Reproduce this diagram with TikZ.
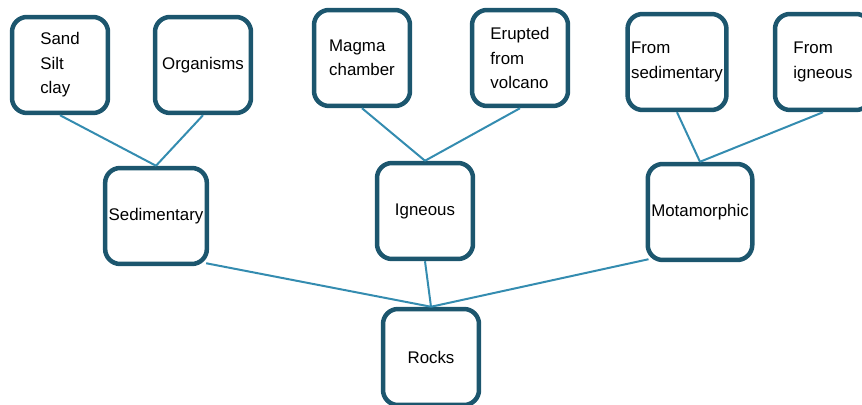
\documentclass[tikz,border=0pt]{standalone}
\usepackage{fontspec}
\setmainfont{Liberation Sans}
\definecolor{borde}{RGB}{28,86,110}
\definecolor{enlace}{RGB}{52,140,176}
\tikzset{
    caja/.style={draw=borde, line width=0.09cm, rounded corners=0.3cm,
        fill=white, minimum width=1.92cm, minimum height=1.92cm,
        align=left, inner sep=2pt,
        font=\fontsize{9.6pt}{13.9pt}\selectfont},
    enlace/.style={draw=enlace, line width=0.04cm}
}
\begin{document}
\begin{tikzpicture}[x=0.02cm, y=-0.02cm]
    \useasboundingbox (0,0) rectangle (862,405);
    \clip (0,0) rectangle (862,405);

    % Raiz y grupos
    \node[caja] (rocks) at (431,357) {Rocks};
    \node[caja] (sed) at (156,216) {Sedimentary};
    \node[caja] (ign) at (425,211) {Igneous};
    \node[caja] (meta) at (700,212) {Motamorphic};

    % Origenes
    \node[caja] (sand) at (60,65) {Sand\\Silt\\clay};
    \node[caja] (org) at (203,65) {Organisms};
    \node[caja] (magma) at (362,58) {Magma\\chamber};
    \node[caja] (erupt) at (520,58) {Erupted\\from\\volcano};
    \node[caja] (fromsed) at (677,62) {From\\sedimentary};
    \node[caja] (fromign) at (823,62) {From\\igneous};

    % Conexiones
    \draw[enlace] (sand.south) -- (sed.north);
    \draw[enlace] (org.south) -- (sed.north);
    \draw[enlace] (magma.south) -- (ign.north);
    \draw[enlace] (erupt.south) -- (ign.north);
    \draw[enlace] (fromsed.south) -- (meta.north);
    \draw[enlace] (fromign.south) -- (meta.north);
    \draw[enlace] ([xshift=-0.06cm,yshift=0.06cm]sed.south east) -- (rocks.north);
    \draw[enlace] (ign.south) -- (rocks.north);
    \draw[enlace] ([xshift=0.06cm,yshift=0.06cm]meta.south west) -- (rocks.north);
\end{tikzpicture}
\end{document}
